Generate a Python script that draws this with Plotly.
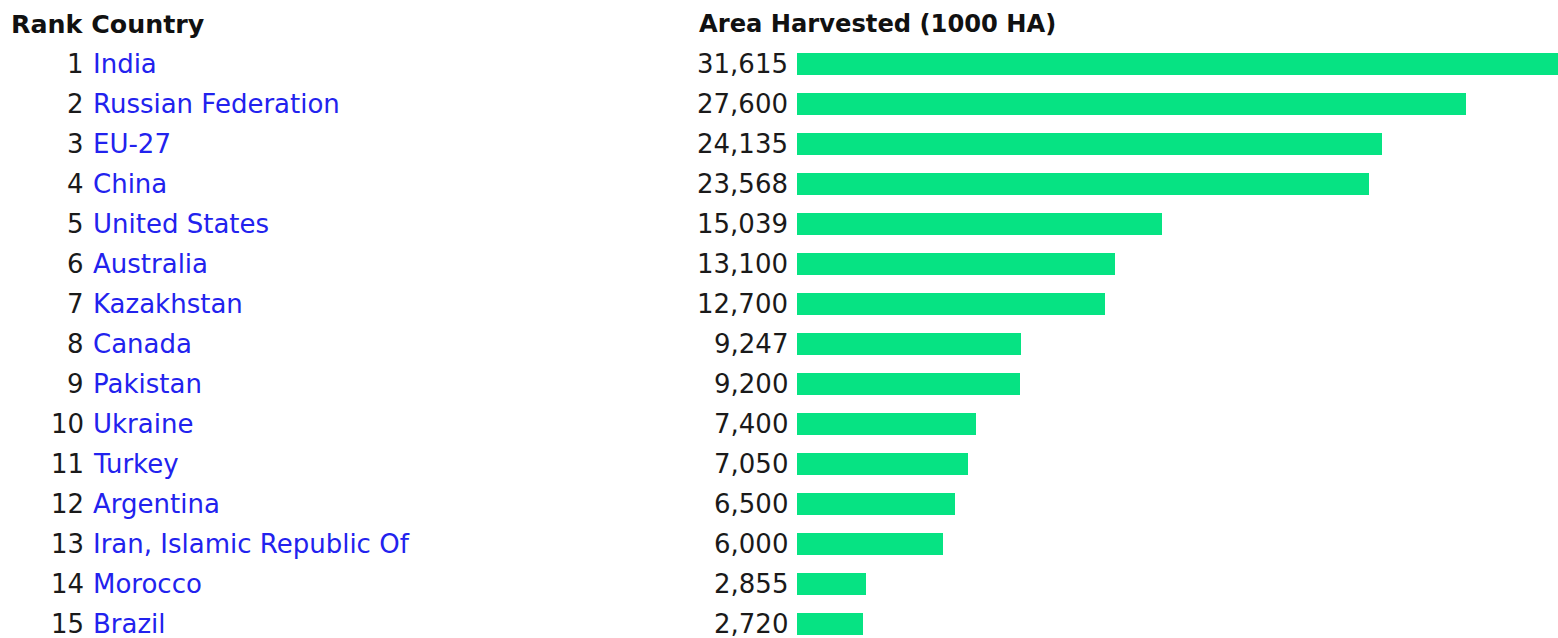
import plotly.graph_objects as go

ranks = list(range(1, 16))
countries = ["India", "Russian Federation", "EU-27", "China", "United States",
             "Australia", "Kazakhstan", "Canada", "Pakistan", "Ukraine",
             "Turkey", "Argentina", "Iran, Islamic Republic Of", "Morocco", "Brazil"]
area = [31615, 27600, 24135, 23568, 15039, 13100, 12700, 9247, 9200, 7400,
        7050, 6500, 6000, 2855, 2720]
header_left = "Rank Country"
header_right = "Area Harvested (1000 HA)"

W, H = 1558, 638
BAR_X0 = 797
ROW0 = 64
PITCH = 40
SCALE = 0.02425  # px per unit

FONT = "DejaVu Sans"
FS = 26
BAR_COLOR = "#06E383"
LINK = "#2222EE"
DARK = "#1A1A1A"

rows = list(range(len(countries)))

fig = go.Figure()
fig.add_trace(go.Bar(
    x=area, y=rows, orientation="h",
    marker=dict(color=BAR_COLOR, line=dict(width=0)),
    width=0.53, hoverinfo="x+text", text=countries, textposition="none",
))

def px(x):
    return x / W

ann = []
for i, (r, c, v) in enumerate(zip(ranks, countries, area)):
    ann.append(dict(x=px(86), y=i, xref="paper", yref="y", text=str(r),
                    xanchor="right", yanchor="middle", showarrow=False,
                    font=dict(family=FONT, size=FS, color=DARK)))
    ann.append(dict(x=px(91), y=i, xref="paper", yref="y", text=c,
                    xanchor="left", yanchor="middle", showarrow=False,
                    font=dict(family=FONT, size=FS, color=LINK)))
    ann.append(dict(x=px(790), y=i, xref="paper", yref="y", text=f"{v:,}",
                    xanchor="right", yanchor="middle", showarrow=False,
                    font=dict(family=FONT, size=FS, color=DARK)))
ann.append(dict(x=px(9), y=-1.0, xref="paper", yref="y", text=f"<b>{header_left}</b>",
                xanchor="left", yanchor="middle", showarrow=False,
                font=dict(family=FONT, size=25.3, color="#111111")))
ann.append(dict(x=px(697), y=-1.0, xref="paper", yref="y", text=f"<b>{header_right}</b>",
                xanchor="left", yanchor="middle", showarrow=False,
                font=dict(family=FONT, size=24.2, color="#111111")))

y_top = -ROW0 / PITCH
y_bot = (H - ROW0) / PITCH
x_max = (W - BAR_X0) / SCALE

fig.update_layout(
    width=W, height=H,
    margin=dict(l=0, r=0, t=0, b=0, pad=0),
    paper_bgcolor="white", plot_bgcolor="white",
    showlegend=False,
    xaxis=dict(domain=[BAR_X0 / W, 1], range=[0, x_max], visible=False, fixedrange=True),
    yaxis=dict(range=[y_bot, y_top], visible=False, fixedrange=True),
    annotations=ann,
    bargap=0,
)

fig.write_html(
    "out.html",
    config={"displayModeBar": False},
    post_script="document.body.style.margin='0';document.body.style.overflow='hidden';",
)
